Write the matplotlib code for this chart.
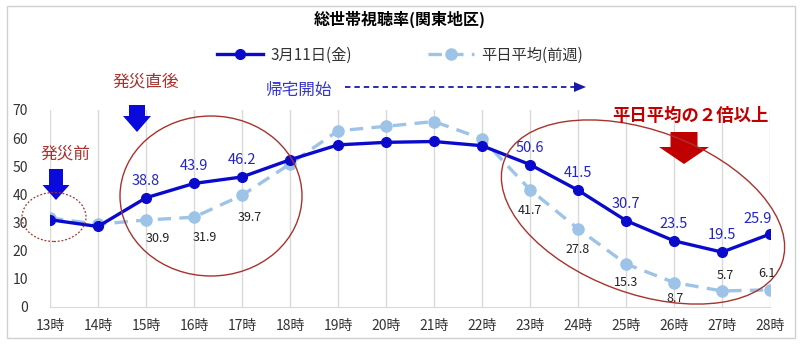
import numpy as np
import matplotlib
matplotlib.use("Agg")
import matplotlib.pyplot as plt
import matplotlib.transforms as mtransforms
from matplotlib.patches import Ellipse, FancyArrow, Rectangle
from matplotlib.lines import Line2D

plt.rcParams['font.family'] = ['Noto Sans CJK JP', 'DejaVu Sans']

# データ
hours = ["13時", "14時", "15時", "16時", "17時", "18時", "19時", "20時",
         "21時", "22時", "23時", "24時", "25時", "26時", "27時", "28時"]
march11 = [31.0, 28.6, 38.8, 43.9, 46.2, 52.3, 57.6, 58.5,
           58.8, 57.3, 50.6, 41.5, 30.7, 23.5, 19.5, 25.9]
weekday = [31.6, 29.4, 30.9, 31.9, 39.7, 50.8, 62.6, 64.2,
           65.9, 59.8, 41.7, 27.8, 15.3, 8.7, 5.7, 6.1]
march11_labeled = [2, 3, 4, 10, 11, 12, 13, 14, 15]
weekday_labeled = [2, 3, 4, 10, 11, 12, 13, 14, 15]

c_blue = "#0A0ACC"
c_light = "#9DC3E6"
c_red = "#A8322D"

fig = plt.figure(figsize=(8, 3.44), dpi=100)
px = mtransforms.IdentityTransform()
H = 344  # 画像の高さ(px)

ax = fig.add_axes([0.0625, 0.1076, 0.9, 0.5727])
x = np.arange(len(hours))
l_week, = ax.plot(x, weekday, color=c_light, lw=2.4, ls=(0, (4, 2.5)),
                  marker="o", ms=8, label="平日平均(前週)", zorder=2)
l_311, = ax.plot(x, march11, color=c_blue, lw=2.4, marker="o", ms=7,
                 label="3月11日(金)", zorder=3)

ax.set_xlim(0, len(hours) - 1)
ax.set_ylim(0, 70)
ax.set_yticks(range(0, 71, 10))
ax.set_xticks(x)
ax.set_xticklabels(hours)
ax.tick_params(length=0, labelsize=10, colors="#333333")
ax.tick_params(axis="x", pad=9)
ax.tick_params(axis="y", pad=16)
ax.grid(axis="x", color="#D9D9D9", lw=1)
for s in ["top", "right", "left"]:
    ax.spines[s].set_visible(False)
ax.spines["bottom"].set_color("#D9D9D9")

# データラベル
up_off = {15: (-12, 8)}
for i in march11_labeled:
    dx, dy = up_off.get(i, (0, 10))
    ax.annotate(f"{march11[i]}", (x[i], march11[i]), textcoords="offset pixels",
                xytext=(dx, dy), ha="center", va="bottom", fontsize=10.5,
                color="#2424C0")
low_off = {2: (12, -12), 3: (11, -14), 4: (8, -16), 10: (0, -14),
           11: (0, -14), 12: (0, -12), 13: (1, -9), 14: (3, 9), 15: (-3, 10)}
for i in weekday_labeled:
    dx, dy = low_off[i]
    ax.annotate(f"{weekday[i]}", (x[i], weekday[i]), textcoords="offset pixels",
                xytext=(dx, dy), ha="center", va="top" if dy < 0 else "bottom",
                fontsize=9, color="#222222")

# 凡例
fig.legend(handles=[l_311, l_week], loc="center",
           bbox_to_anchor=(0.5, 1 - 55 / H), ncol=2, frameon=False,
           fontsize=11, handlelength=3, columnspacing=5, handletextpad=0.5,
           labelcolor="#333333")

fig.text(0.5, 1 - 19 / H, "総世帯視聴率(関東地区)", ha="center", va="center",
         fontsize=11.5, fontweight="bold")

# 注釈テキスト
fig.text(146 / 800, 1 - 82 / H, "発災直後", ha="center", va="center",
         fontsize=12, color=c_red)
fig.text(65 / 800, 1 - 154 / H, "発災前", ha="center", va="center",
         fontsize=12, color=c_red)
fig.text(299 / 800, 1 - 90 / H, "帰宅開始", ha="center", va="center",
         fontsize=12, color="#3535D0")
fig.text(690 / 800, 1 - 116 / H, "平日平均の２倍以上", ha="center",
         va="center", fontsize=12.5, fontweight="bold", color="#C00000")

# 矢印
def block_arrow(xc, top, tip, w, hw, hl, color):
    fig.add_artist(FancyArrow(xc, H - top, 0, -(tip - top), width=w,
                              head_width=hw, head_length=hl,
                              length_includes_head=True, color=color,
                              lw=0, transform=px))

block_arrow(137, 105, 132, 16, 28, 16, "#0A0ADD")
block_arrow(56, 169, 200, 14, 27, 15, "#0A0ADD")
block_arrow(684, 132, 164, 27, 50, 17, "#C00000")

fig.add_artist(Line2D([345, 578], [H - 87, H - 87], ls=(0, (3, 2.2)), lw=1.3,
                      color="#1A1AA8", transform=px))
fig.add_artist(FancyArrow(574, H - 87, 12, 0, width=0.1, head_width=10,
                          head_length=12, length_includes_head=True,
                          color="#1A1AA8", lw=0, transform=px))

# 楕円
fig.add_artist(Ellipse((54, H - 217), 64, 49, fill=False, ec=c_red, lw=0.9,
                       ls=(0, (1.5, 1.5)), transform=px))
fig.add_artist(Ellipse((211, H - 196), 182, 160, fill=False, ec=c_red,
                       lw=1.0, transform=px))
fig.add_artist(Ellipse((643, H - 212), 296, 163, angle=-20.3, fill=False,
                       ec=c_red, lw=1.0, transform=px))

# 外枠
fig.add_artist(Rectangle((7, 6), 788, 332, fill=False, ec="#D0D0D0", lw=1,
                         transform=px))

fig.savefig("out.png", dpi=100)
